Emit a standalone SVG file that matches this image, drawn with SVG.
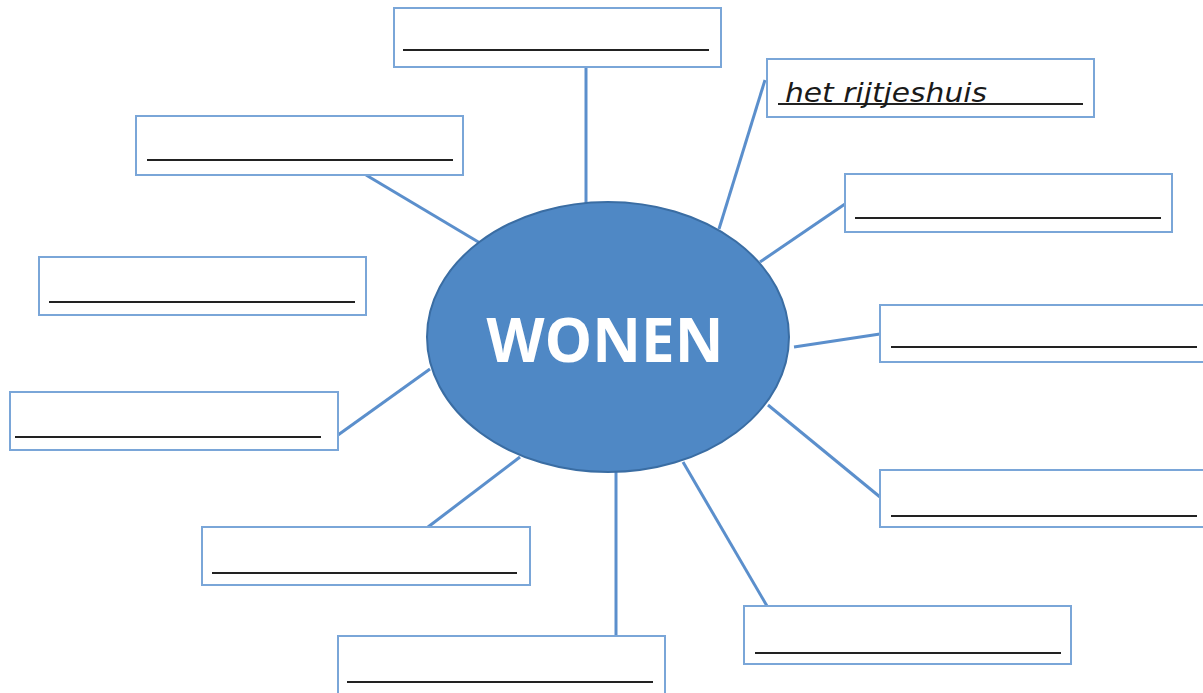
<svg xmlns="http://www.w3.org/2000/svg" width="1203" height="693" viewBox="0 0 1203 693">
<style>
.box{fill:#fff;stroke:#7aa6d8;stroke-width:2}
.ul{stroke:#222;stroke-width:2}
.con line{stroke:#5b8fcc;stroke-width:3}
.hw{font-family:"DejaVu Sans",sans-serif;font-style:italic;font-size:27px;fill:#1a1a1a}
.title{font-family:"Open Sans",sans-serif;font-weight:bold;font-size:60px;fill:#fff}
</style>
<rect width="1203" height="693" fill="#fff"/>
<g class="con">
<line x1="586" y1="67" x2="586" y2="205"/>
<line x1="765" y1="80" x2="719" y2="229"/>
<line x1="845" y1="204" x2="760" y2="262"/>
<line x1="880" y1="334" x2="794" y2="347"/>
<line x1="880" y1="497" x2="768" y2="405"/>
<line x1="767" y1="606" x2="683" y2="462"/>
<line x1="616" y1="636" x2="616" y2="470"/>
<line x1="428" y1="527" x2="520" y2="457"/>
<line x1="338" y1="435" x2="430" y2="369"/>
<line x1="366" y1="175" x2="480" y2="243"/>
</g>
<g id="center">
<ellipse cx="608" cy="337" rx="181" ry="135" fill="#4f88c5" stroke="#3a6da3" stroke-width="2"/>
<text class="title" x="605" y="362" text-anchor="middle">WONEN</text>
</g>
<g id="n-top"><rect class="box" x="394" y="8" width="327" height="59"/><line class="ul" x1="403" y1="50" x2="709" y2="50"/></g>
<g id="n-rijtjeshuis"><rect class="box" x="767" y="59" width="327" height="58"/><line class="ul" x1="778" y1="104" x2="1083" y2="104"/><text class="hw" x="785" y="102" textLength="202" lengthAdjust="spacingAndGlyphs">het rijtjeshuis</text></g>
<g id="n-r1"><rect class="box" x="845" y="174" width="327" height="58"/><line class="ul" x1="855" y1="218" x2="1161" y2="218"/></g>
<g id="n-r2"><rect class="box" x="880" y="305" width="330" height="57"/><line class="ul" x1="891" y1="347" x2="1197" y2="347"/></g>
<g id="n-r3"><rect class="box" x="880" y="470" width="330" height="57"/><line class="ul" x1="891" y1="516" x2="1197" y2="516"/></g>
<g id="n-br"><rect class="box" x="744" y="606" width="327" height="58"/><line class="ul" x1="755" y1="653" x2="1061" y2="653"/></g>
<g id="n-b"><rect class="box" x="338" y="636" width="327" height="60"/><line class="ul" x1="347" y1="682" x2="653" y2="682"/></g>
<g id="n-bl"><rect class="box" x="202" y="527" width="328" height="58"/><line class="ul" x1="212" y1="573" x2="517" y2="573"/></g>
<g id="n-l3"><rect class="box" x="10" y="392" width="328" height="58"/><line class="ul" x1="15" y1="437" x2="321" y2="437"/></g>
<g id="n-l2"><rect class="box" x="39" y="257" width="327" height="58"/><line class="ul" x1="49" y1="302" x2="355" y2="302"/></g>
<g id="n-l1"><rect class="box" x="136" y="116" width="327" height="59"/><line class="ul" x1="147" y1="160" x2="453" y2="160"/></g>
</svg>
